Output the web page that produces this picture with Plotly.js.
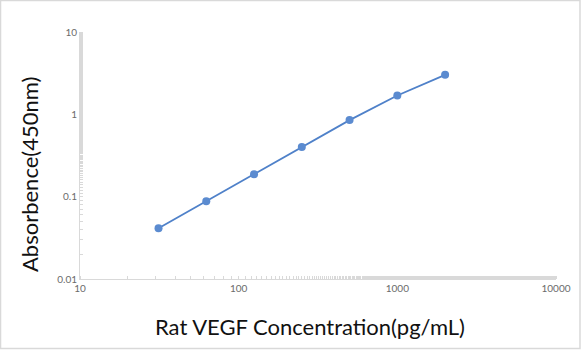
<!DOCTYPE html>
<html>
<head>
<meta charset="utf-8">
<script src="https://cdn.plot.ly/plotly-3.0.1.min.js"></script>
<style>html,body{margin:0;padding:0;background:#fff;}#chart{width:581px;height:350px;}</style>
</head>
<body>
<div id="chart"></div>
<script>
const concentration = [31.25, 62.5, 125, 250, 500, 1000, 2000];
const absorbance = [0.0413, 0.0881, 0.1875, 0.40, 0.851, 1.694, 3.02];
const xTickVals = [10, 100, 1000, 10000];
const xTickText = ['10', '100', '1000', '10000'];
const yTickVals = [0.01, 0.1, 1, 10];
const yTickText = ['0.01', '0.1', '1', '10'];
const xTitle = 'Rat VEGF Concentration(pg/mL)';
const yTitle = 'Absorbence(450nm)';

const trace = {
  x: concentration,
  y: absorbance,
  type: 'scatter',
  mode: 'lines+markers',
  line: {color: '#4f81c9', width: 1.8},
  marker: {color: '#5b8bd0', size: 8},
  showlegend: false,
  hoverinfo: 'skip'
};

const tickFont = {family: 'Lato, "Open Sans", sans-serif', size: 10, color: '#6b6b6b'};
const titleFont = {family: 'Lato, "Open Sans", sans-serif', size: 22, color: '#111'};

// plot area: x 80..556 px, y 32..279 px
const layout = {
  width: 581, height: 350,
  margin: {l: 80, r: 25, t: 32, b: 71},
  paper_bgcolor: '#fff', plot_bgcolor: '#fff',
  xaxis: {
    type: 'log', range: [1, 4],
    tickvals: xTickVals, ticktext: xTickText,
    showgrid: false, zeroline: false,
    showline: true, linecolor: '#d9d9d9', linewidth: 1,
    ticks: '', tickfont: tickFont,
    minor: {ticks: 'inside', ticklen: 3, tickcolor: '#d9d9d9', showgrid: false}
  },
  yaxis: {
    type: 'log', range: [-2, 1],
    tickvals: yTickVals, ticktext: yTickText,
    showgrid: false, zeroline: false,
    showline: true, linecolor: '#d9d9d9', linewidth: 1,
    ticks: '', tickfont: tickFont,
    minor: {ticks: 'inside', ticklen: 3, tickcolor: '#d9d9d9', showgrid: false}
  },
  annotations: [
    {text: xTitle, xref: 'paper', yref: 'paper',
     x: (310 - 80) / 476, y: (279 - 326) / 247,
     xanchor: 'center', yanchor: 'middle', showarrow: false, font: titleFont},
    {text: yTitle, xref: 'paper', yref: 'paper', textangle: -90,
     x: (29 - 80) / 476, y: (279 - 175) / 247,
     xanchor: 'center', yanchor: 'middle', showarrow: false, font: titleFont}
  ],
  shapes: [{
    type: 'rect', xref: 'paper', yref: 'paper',
    x0: -0.167, x1: 1.0504, y0: -0.2814, y1: 1.1275,
    line: {color: '#d9d9d9', width: 1.5}
  }]
};

Plotly.newPlot('chart', [trace], layout, {displayModeBar: false, staticPlot: true});
</script>
</body>
</html>
